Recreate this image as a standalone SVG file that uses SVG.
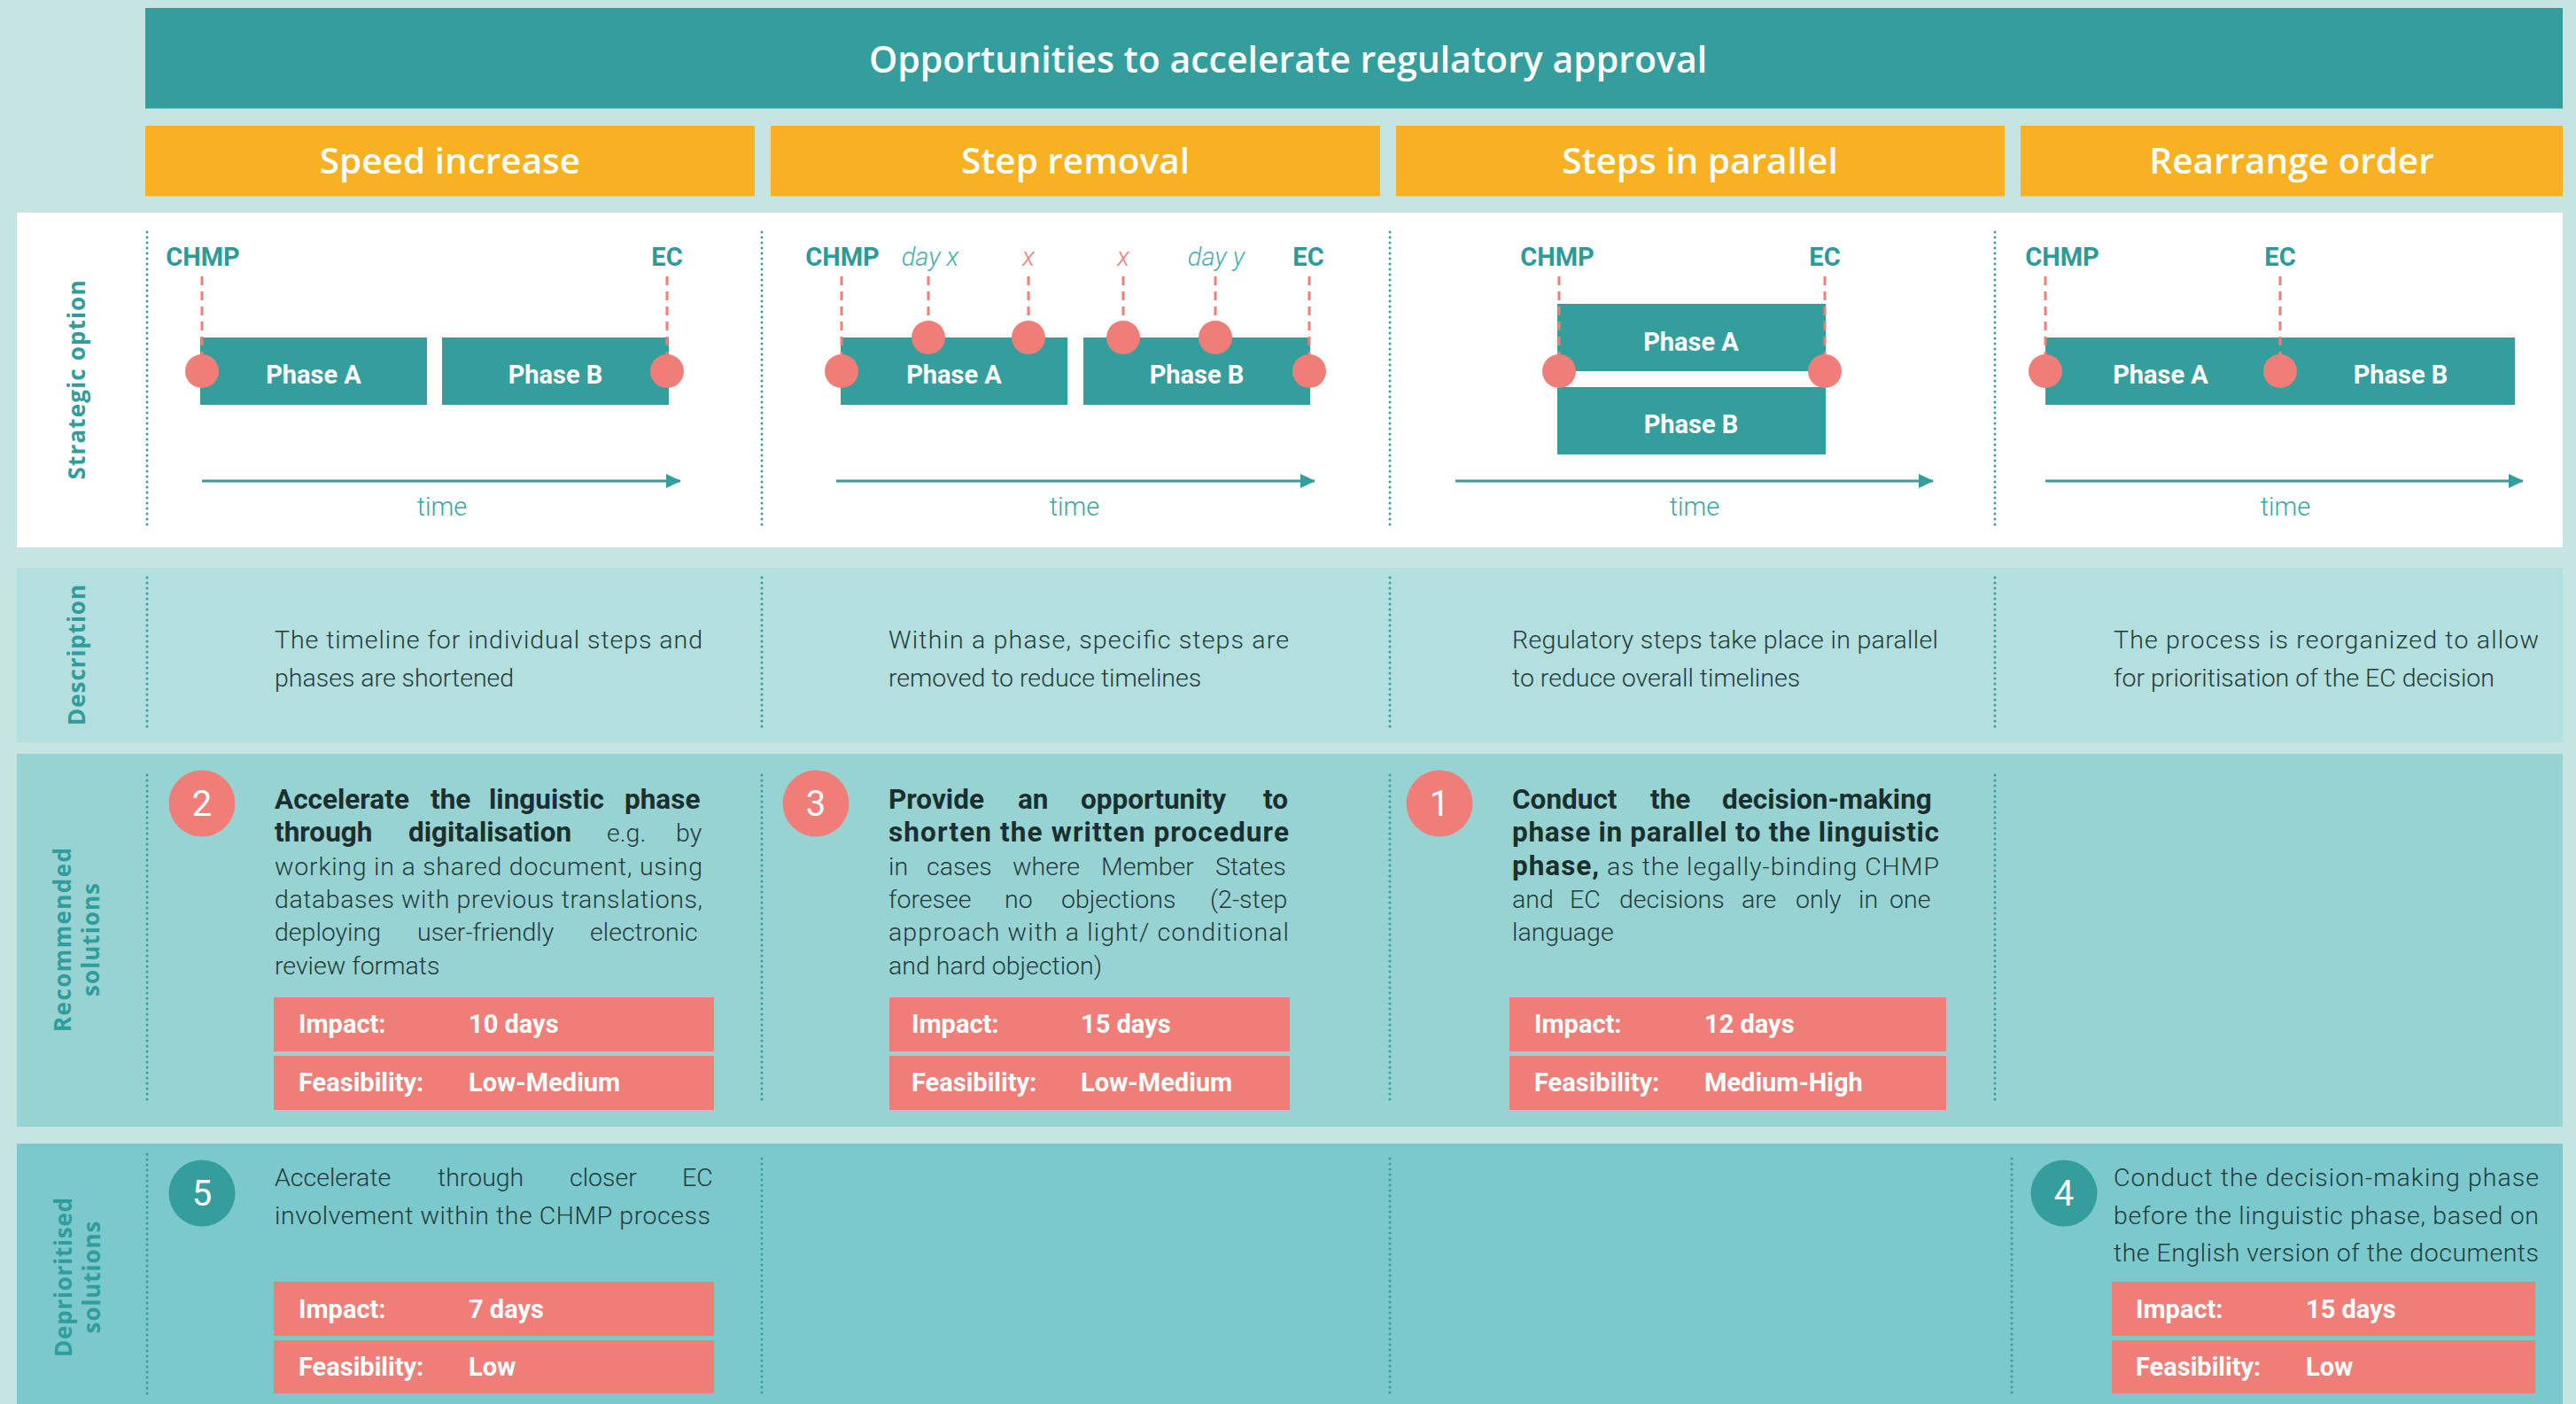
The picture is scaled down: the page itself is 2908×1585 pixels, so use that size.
<svg xmlns="http://www.w3.org/2000/svg" width="2908" height="1585" viewBox="0 0 2908 1585">
<style>
.tt{font-family:"Open Sans","Liberation Sans",sans-serif;font-weight:600;fill:#fff;text-anchor:middle}
.vl{font-family:"Open Sans","Liberation Sans",sans-serif;font-weight:700;font-size:26px;fill:#2f9d9b;text-anchor:middle}
.rc{font-family:Roboto,"Liberation Sans",sans-serif}
.cl{font-weight:700;font-size:29px;fill:#2e9a98;text-anchor:middle}
.it{font-style:italic;font-weight:300;font-size:29px;text-anchor:middle}
.ph{font-weight:700;font-size:29px;fill:#fff;text-anchor:middle}
.tm{font-weight:300;font-size:29px;fill:#3aa6a2;text-anchor:middle}
.bd{font-weight:300;font-size:28.5px;fill:#233b3b}
.b{font-weight:700;font-size:31.5px;fill:#1c2f2f}
.num{font-weight:400;font-size:40px;fill:#fff;text-anchor:middle}
.ib{font-weight:700;font-size:29px;fill:#fff}
.dot{stroke:#3a9e9b;stroke-width:3;stroke-dasharray:0 6;stroke-linecap:round;fill:none}
.dsh{stroke:#ef7e78;stroke-width:3;stroke-dasharray:10 7;fill:none}
.mk{fill:#ef7e78}
.pb{fill:#349e9c}
.ax{stroke:#349e9c;stroke-width:3;fill:none}
.box{fill:#ef7e78}
</style>
<defs>
<marker id="ah" markerUnits="userSpaceOnUse" markerWidth="18" markerHeight="16" refX="16" refY="8" orient="auto">
<path d="M0,0 L17,8 L0,16 Z" fill="#349e9c"/>
</marker>
</defs>
<rect x="0" y="0" width="2908" height="1585" fill="#c5e4e2"/>
<g id="title">
<rect x="164" y="9" width="2729" height="113.5" fill="#349e9c"/>
<text class="tt" x="1454" y="82" font-size="41">Opportunities to accelerate regulatory approval</text>
</g>
<g id="headers">
<rect x="164" y="142" width="688" height="79.5" fill="#f8b122"/>
<rect x="870" y="142" width="688" height="79.5" fill="#f8b122"/>
<rect x="1576" y="142" width="687" height="79.5" fill="#f8b122"/>
<rect x="2281" y="142" width="612" height="79.5" fill="#f8b122"/>
<text class="tt" x="508" y="196" font-size="40.5">Speed increase</text>
<text class="tt" x="1214" y="196" font-size="40.5">Step removal</text>
<text class="tt" x="1919" y="196" font-size="40.5">Steps in parallel</text>
<text class="tt" x="2587" y="196" font-size="40.5">Rearrange order</text>
</g>
<g id="rows">
<rect x="19" y="240" width="2874" height="378" fill="#ffffff"/>
<rect x="19" y="641" width="2874" height="197" fill="#b3dfde"/>
<rect x="19" y="851" width="2874" height="421" fill="#98d3d4"/>
<rect x="19" y="1291" width="2874" height="294" fill="#7bc9cc"/>
<text class="vl" transform="translate(96,429) rotate(-90)" textLength="225" lengthAdjust="spacing">Strategic option</text>
<text class="vl" transform="translate(96,739.5) rotate(-90)" textLength="159" lengthAdjust="spacing">Description</text>
<text class="vl" transform="translate(80,1061) rotate(-90)" textLength="208" lengthAdjust="spacing">Recommended</text>
<text class="vl" transform="translate(112,1061) rotate(-90)" textLength="128" lengthAdjust="spacing">solutions</text>
<text class="vl" transform="translate(81,1442) rotate(-90)" textLength="180" lengthAdjust="spacing">Deprioritised</text>
<text class="vl" transform="translate(113,1442) rotate(-90)" textLength="127" lengthAdjust="spacing">solutions</text>
</g>
<g id="separators">
<path class="dot" d="M166,262V595M860,262V595M1569,262V595M2252,262V595"/>
<path class="dot" d="M166,652V826M860,652V826M1569,652V826M2252,652V826"/>
<path class="dot" d="M166,875V1247M860,875V1247M1569,875V1247M2252,875V1247"/>
<path class="dot" d="M166,1303V1575M860,1308V1575M1569,1308V1575M2271,1308V1575"/>
</g>
<g id="opt-speed" class="rc">
<rect class="pb" x="226" y="381" width="256" height="76"/>
<rect class="pb" x="499" y="381" width="256" height="76"/>
<text class="ph" x="354" y="433">Phase A</text>
<text class="ph" x="627" y="433">Phase B</text>
<path class="dsh" d="M228,312V400M753,312V400"/>
<circle class="mk" cx="228" cy="419" r="19"/>
<circle class="mk" cx="753" cy="419" r="19"/>
<text class="cl" x="229" y="300">CHMP</text>
<text class="cl" x="753" y="300">EC</text>
<path class="ax" d="M228,543H768" marker-end="url(#ah)"/>
<text class="tm" x="499" y="582">time</text>
</g>
<g id="opt-removal" class="rc">
<rect class="pb" x="949" y="381" width="256" height="76"/>
<rect class="pb" x="1223" y="381" width="256" height="76"/>
<text class="ph" x="1077" y="433">Phase A</text>
<text class="ph" x="1351" y="433">Phase B</text>
<path class="dsh" d="M950,312V400M1478,312V400M1048,312V362M1161,312V362M1268,312V362M1372,312V362"/>
<circle class="mk" cx="950" cy="419" r="19"/>
<circle class="mk" cx="1478" cy="419" r="19"/>
<circle class="mk" cx="1048" cy="381" r="19"/>
<circle class="mk" cx="1161" cy="381" r="19"/>
<circle class="mk" cx="1268" cy="381" r="19"/>
<circle class="mk" cx="1372" cy="381" r="19"/>
<text class="cl" x="951" y="300">CHMP</text>
<text class="it" x="1050" y="300" fill="#4aaeaa">day x</text>
<text class="it" x="1161" y="300" fill="#ef7e78">x</text>
<text class="it" x="1268" y="300" fill="#ef7e78">x</text>
<text class="it" x="1373" y="300" fill="#4aaeaa">day y</text>
<text class="cl" x="1477" y="300">EC</text>
<path class="ax" d="M944,543H1484" marker-end="url(#ah)"/>
<text class="tm" x="1213" y="582">time</text>
</g>
<g id="opt-parallel" class="rc">
<rect class="pb" x="1758" y="343" width="303" height="76"/>
<rect class="pb" x="1758" y="437" width="303" height="76"/>
<text class="ph" x="1909" y="396">Phase A</text>
<text class="ph" x="1909" y="489">Phase B</text>
<path class="dsh" d="M1760,312V400M2060,312V400"/>
<circle class="mk" cx="1760" cy="419" r="19"/>
<circle class="mk" cx="2060" cy="419" r="19"/>
<text class="cl" x="1758" y="300">CHMP</text>
<text class="cl" x="2060" y="300">EC</text>
<path class="ax" d="M1643,543H2182" marker-end="url(#ah)"/>
<text class="tm" x="1913" y="582">time</text>
</g>
<g id="opt-rearrange" class="rc">
<rect class="pb" x="2309" y="381" width="530" height="76"/>
<text class="ph" x="2439" y="433">Phase A</text>
<text class="ph" x="2710" y="433">Phase B</text>
<path class="dsh" d="M2309,312V400M2574,312V400"/>
<circle class="mk" cx="2309" cy="419" r="19"/>
<circle class="mk" cx="2574" cy="419" r="19"/>
<text class="cl" x="2328" y="300">CHMP</text>
<text class="cl" x="2574" y="300">EC</text>
<path class="ax" d="M2309,543H2848" marker-end="url(#ah)"/>
<text class="tm" x="2580" y="582">time</text>
</g>
<g id="descriptions" class="rc">
<text class="bd" x="310" y="732" textLength="483" lengthAdjust="spacing">The timeline for individual steps and</text>
<text class="bd" x="310" y="775">phases are shortened</text>
<text class="bd" x="1003" y="732" textLength="452" lengthAdjust="spacing">Within a phase, specific steps are</text>
<text class="bd" x="1003" y="775">removed to reduce timelines</text>
<text class="bd" x="1707" y="732" textLength="481" lengthAdjust="spacing">Regulatory steps take place in parallel</text>
<text class="bd" x="1707" y="775">to reduce overall timelines</text>
<text class="bd" x="2386" y="732" textLength="480" lengthAdjust="spacing">The process is reorganized to allow</text>
<text class="bd" x="2386" y="775">for prioritisation of the EC decision</text>
</g>
<g id="sol-2" class="rc">
<circle class="mk" cx="228" cy="907" r="37.5"/>
<text class="num" x="228" y="921">2</text>
<text class="bd" y="913"><tspan class="b" x="310">Accelerate</tspan><tspan class="b" x="486">the</tspan><tspan class="b" x="552">linguistic</tspan><tspan class="b" x="705">phase</tspan></text>
<text class="bd" y="950"><tspan class="b" x="310">through</tspan><tspan class="b" x="461">digitalisation</tspan><tspan x="685">e.g.</tspan><tspan x="763">by</tspan></text>
<text class="bd" x="310" y="988" textLength="483" lengthAdjust="spacing">working in a shared document, using</text>
<text class="bd" x="310" y="1025" textLength="483" lengthAdjust="spacing">databases with previous translations,</text>
<text class="bd" y="1062"><tspan x="310">deploying</tspan><tspan x="471">user-friendly</tspan><tspan x="666">electronic</tspan></text>
<text class="bd" x="310" y="1100">review formats</text>
<rect class="box" x="309" y="1126" width="497" height="61"/>
<rect class="box" x="309" y="1192" width="497" height="61"/>
<text class="ib" x="337" y="1166">Impact:</text>
<text class="ib" x="529" y="1166">10 days</text>
<text class="ib" x="337" y="1232">Feasibility:</text>
<text class="ib" x="529" y="1232">Low-Medium</text>
</g>
<g id="sol-3" class="rc">
<circle class="mk" cx="921" cy="907" r="37.5"/>
<text class="num" x="921" y="921">3</text>
<text class="bd" y="913"><tspan class="b" x="1003">Provide</tspan><tspan class="b" x="1149">an</tspan><tspan class="b" x="1220">opportunity</tspan><tspan class="b" x="1426">to</tspan></text>
<text class="bd" x="1003" y="950" textLength="452" lengthAdjust="spacing"><tspan class="b">shorten the written procedure</tspan></text>
<text class="bd" y="988"><tspan x="1003">in</tspan><tspan x="1046">cases</tspan><tspan x="1143">where</tspan><tspan x="1243">Member</tspan><tspan x="1372">States</tspan></text>
<text class="bd" y="1025"><tspan x="1003">foresee</tspan><tspan x="1134">no</tspan><tspan x="1198">objections</tspan><tspan x="1366">(2-step</tspan></text>
<text class="bd" x="1003" y="1062" textLength="452" lengthAdjust="spacing">approach with a light/ conditional</text>
<text class="bd" x="1003" y="1100">and hard objection)</text>
<rect class="box" x="1004" y="1126" width="452" height="61"/>
<rect class="box" x="1004" y="1192" width="452" height="61"/>
<text class="ib" x="1029" y="1166">Impact:</text>
<text class="ib" x="1220" y="1166">15 days</text>
<text class="ib" x="1029" y="1232">Feasibility:</text>
<text class="ib" x="1220" y="1232">Low-Medium</text>
</g>
<g id="sol-1" class="rc">
<circle class="mk" cx="1625" cy="907" r="37.5"/>
<text class="num" x="1625" y="921">1</text>
<text class="bd" y="913"><tspan class="b" x="1707">Conduct</tspan><tspan class="b" x="1863">the</tspan><tspan class="b" x="1944">decision-making</tspan></text>
<text class="bd" x="1707" y="950" textLength="482" lengthAdjust="spacing"><tspan class="b">phase in parallel to the linguistic</tspan></text>
<text class="bd" x="1707" y="988" textLength="482" lengthAdjust="spacing"><tspan class="b">phase,</tspan> as the legally-binding CHMP</text>
<text class="bd" y="1025"><tspan x="1707">and</tspan><tspan x="1772">EC</tspan><tspan x="1828">decisions</tspan><tspan x="1966">are</tspan><tspan x="2027">only</tspan><tspan x="2098">in</tspan><tspan x="2133">one</tspan></text>
<text class="bd" x="1707" y="1062">language</text>
<rect class="box" x="1704" y="1126" width="493" height="61"/>
<rect class="box" x="1704" y="1192" width="493" height="61"/>
<text class="ib" x="1732" y="1166">Impact:</text>
<text class="ib" x="1924" y="1166">12 days</text>
<text class="ib" x="1732" y="1232">Feasibility:</text>
<text class="ib" x="1924" y="1232">Medium-High</text>
</g>
<g id="sol-5" class="rc">
<circle cx="228" cy="1347" r="37.5" fill="#349e9c"/>
<text class="num" x="228" y="1361">5</text>
<text class="bd" y="1339"><tspan x="310">Accelerate</tspan><tspan x="494">through</tspan><tspan x="643">closer</tspan><tspan x="770">EC</tspan></text>
<text class="bd" x="310" y="1382" textLength="492" lengthAdjust="spacing">involvement within the CHMP process</text>
<rect class="box" x="309" y="1447" width="497" height="61"/>
<rect class="box" x="309" y="1513" width="497" height="60"/>
<text class="ib" x="337" y="1488">Impact:</text>
<text class="ib" x="529" y="1488">7 days</text>
<text class="ib" x="337" y="1553">Feasibility:</text>
<text class="ib" x="529" y="1553">Low</text>
</g>
<g id="sol-4" class="rc">
<circle cx="2330" cy="1347" r="37.5" fill="#349e9c"/>
<text class="num" x="2330" y="1361">4</text>
<text class="bd" x="2386" y="1339" textLength="480" lengthAdjust="spacing">Conduct the decision-making phase</text>
<text class="bd" x="2386" y="1382" textLength="480" lengthAdjust="spacing">before the linguistic phase, based on</text>
<text class="bd" x="2386" y="1424" textLength="480" lengthAdjust="spacing">the English version of the documents</text>
<rect class="box" x="2384" y="1447" width="478" height="61"/>
<rect class="box" x="2384" y="1513" width="478" height="60"/>
<text class="ib" x="2411" y="1488">Impact:</text>
<text class="ib" x="2603" y="1488">15 days</text>
<text class="ib" x="2411" y="1553">Feasibility:</text>
<text class="ib" x="2603" y="1553">Low</text>
</g>
</svg>
